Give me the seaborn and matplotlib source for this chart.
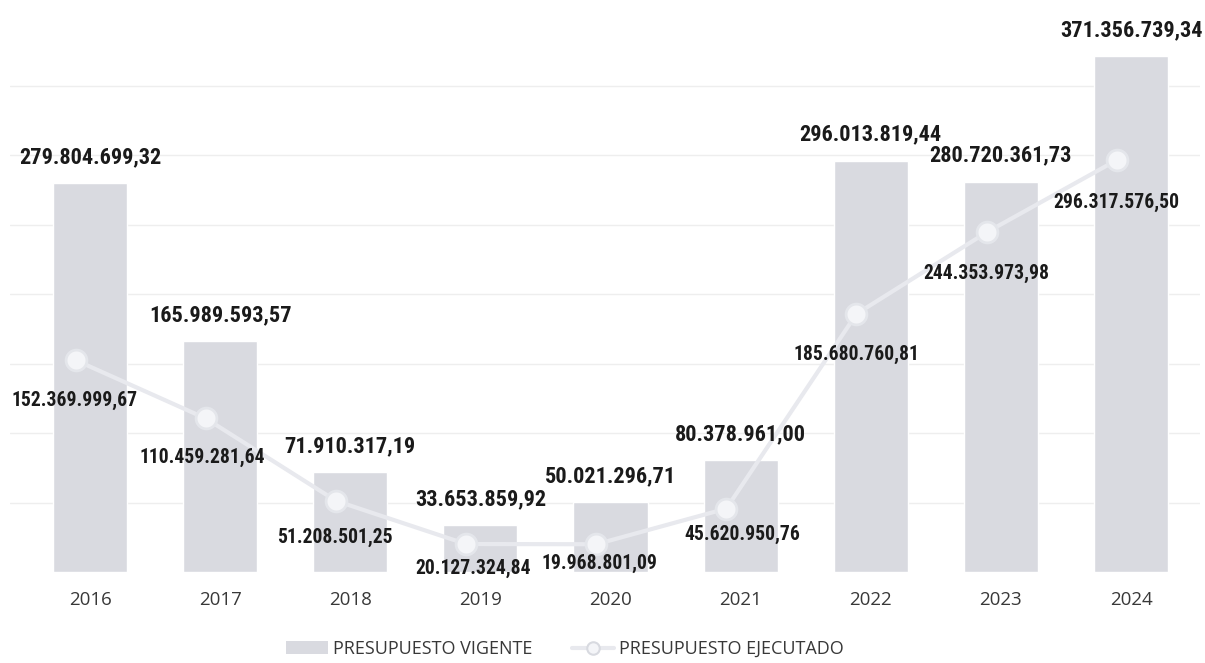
import numpy as np
import pandas as pd
import matplotlib
matplotlib.use("Agg")
import matplotlib.pyplot as plt
import seaborn as sns
from matplotlib import font_manager
from matplotlib.patches import Patch
from matplotlib.lines import Line2D

# chart values
years = ["2016", "2017", "2018", "2019", "2020", "2021", "2022", "2023", "2024"]
vigente = [279804699.32, 165989593.57, 71910317.19, 33653859.92, 50021296.71,
           80378961.00, 296013819.44, 280720361.73, 371356739.34]
ejecutado = [152369999.67, 110459281.64, 51208501.25, 20127324.84, 19968801.09,
             45620950.76, 185680760.81, 244353973.98, 296317576.50]
legend_labels = ["PRESUPUESTO VIGENTE", "PRESUPUESTO EJECUTADO"]

# label offsets in pixels (dx, dy below the marker)
line_offsets = [(-1, 40), (-4, 39), (-1, 37), (7, 24), (3, 19), (16, 26), (0, 41), (0, 41), (0, 42)]

bar_color = "#d9dae0"
line_color = "#e8e9ee"

sns.set_theme(style="white")

# pick a narrow face if one is installed
installed = {f.name for f in font_manager.fontManager.ttflist}
narrow = [n for n in ["Liberation Sans Narrow", "Roboto Condensed", "DejaVu Sans Condensed",
                      "Open Sans Condensed", "Noto Sans Condensed"] if n in installed]
num_font = narrow[:1] + ["DejaVu Sans"]
txt_font = ["Open Sans", "DejaVu Sans"]


def fmt(v):
    s = f"{v:,.2f}"
    return s.replace(",", "X").replace(".", ",").replace("X", ".")


df = pd.DataFrame({"year": years, "vigente": vigente, "ejecutado": ejecutado})

fig = plt.figure(figsize=(12.05, 6.63), dpi=100)
ax = fig.add_axes([10 / 1205, 91 / 663, 1190 / 1205, 556 / 663])

sns.barplot(data=df, x="year", y="vigente", color=bar_color, width=0.57,
            saturation=1, ax=ax, zorder=2)

xpos = np.arange(len(years)) - 0.11
sns.lineplot(x=xpos, y=df["ejecutado"], color=line_color, linewidth=3,
             marker="o", markersize=15, markerfacecolor="#f4f5f8",
             markeredgecolor="#e4e6eb", markeredgewidth=2, ax=ax, zorder=3)

ax.set_xlim(-0.615, 8.53)
ax.set_ylim(0, 400e6)
ax.set_yticks(np.arange(50e6, 400e6, 50e6))
ax.set_yticklabels([])
ax.yaxis.grid(True, color="#eeeeee", linewidth=1, zorder=0)
ax.set_axisbelow(True)
ax.set_xlabel("")
ax.set_ylabel("")
for s in ax.spines.values():
    s.set_visible(False)
ax.tick_params(axis="x", length=0, pad=14, labelsize=13.5, labelcolor="#383838")
ax.tick_params(axis="y", length=0)
for t in ax.get_xticklabels():
    t.set_family(txt_font)

px = 0.72
bar_texts = []
for i, v in enumerate(vigente):
    t = ax.annotate(fmt(v), xy=(i, v), xytext=(0, 26 * px), textcoords="offset points",
                    ha="center", va="center", fontsize=17.5, fontweight="bold",
                    family=num_font, color="#1a1a1a", zorder=5)
    bar_texts.append(t)

line_texts = []
for i, v in enumerate(ejecutado):
    dx, dy = line_offsets[i]
    t = ax.annotate(fmt(v), xy=(xpos[i], v), xytext=(dx * px, -dy * px),
                    textcoords="offset points", ha="center", va="center",
                    fontsize=16, fontweight="bold", family=num_font,
                    color="#1a1a1a", zorder=5)
    line_texts.append(t)

# size the value labels so their width matches the reference
renderer = fig.canvas.get_renderer()
for texts, target in [(bar_texts, 142), (line_texts, 126)]:
    w = texts[0].get_window_extent(renderer).width
    size = texts[0].get_fontsize() * target / w
    for t in texts:
        t.set_fontsize(size)

handles = [
    Patch(facecolor=bar_color, edgecolor="none"),
    Line2D([0], [0], color=line_color, linewidth=3, marker="o", markersize=9,
           markerfacecolor="#f4f5f8", markeredgecolor="#d8dae0", markeredgewidth=1.5),
]
fig.legend(handles, legend_labels, loc="center", bbox_to_anchor=(565 / 1205, 1 - 649 / 663),
           ncol=2, frameon=False, prop={"family": txt_font, "size": 13},
           labelcolor="#383838", handlelength=2.3, handleheight=0.7, columnspacing=2.2,
           handletextpad=0.3)

fig.savefig("out.png", dpi=100, facecolor="white")
